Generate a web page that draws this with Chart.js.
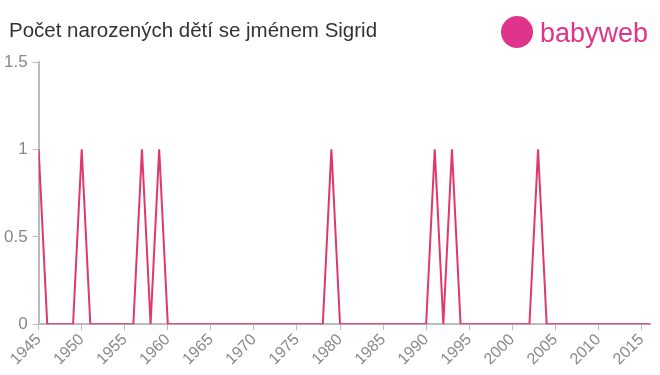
<!DOCTYPE html>
<html><head><meta charset="utf-8">
<script src="https://cdn.jsdelivr.net/npm/chart.js@4"></script>
<style>
html,body{margin:0;padding:0;background:#fff;}
#wrap{position:relative;width:660px;height:375px;}
#title{position:absolute;left:9px;top:18px;font-family:Arial,"Liberation Sans",sans-serif;font-size:20.5px;color:#333;}
#logo{position:absolute;left:501px;top:16px;height:36px;}
#logo .c{position:absolute;left:0;top:0;width:32px;height:32px;border-radius:50%;background:#e0338a;}
#logo .t{position:absolute;left:39px;top:2px;font-family:Arial,"Liberation Sans",sans-serif;font-size:27px;color:#e0338a;}
canvas{position:absolute;left:0;top:0;}
</style></head>
<body><div id="wrap"><canvas id="c" width="660" height="375"></canvas>
<div id="title">Počet narozených dětí se jménem Sigrid</div>
<div id="logo"><div class="c"></div><div class="t">babyweb</div></div>
</div>
<script>
const years = [1945,1946,1947,1948,1949,1950,1951,1952,1953,1954,1955,1956,1957,1958,1959,1960,1961,1962,1963,1964,1965,1966,1967,1968,1969,1970,1971,1972,1973,1974,1975,1976,1977,1978,1979,1980,1981,1982,1983,1984,1985,1986,1987,1988,1989,1990,1991,1992,1993,1994,1995,1996,1997,1998,1999,2000,2001,2002,2003,2004,2005,2006,2007,2008,2009,2010,2011,2012,2013,2014,2015,2016];
const counts = [1,0,0,0,0,1,0,0,0,0,0,0,1,0,1,0,0,0,0,0,0,0,0,0,0,0,0,0,0,0,0,0,0,0,1,0,0,0,0,0,0,0,0,0,0,0,1,0,1,0,0,0,0,0,0,0,0,0,1,0,0,0,0,0,0,0,0,0,0,0,0,0];
const yTicks = [0,0.5,1,1.5];
const xTickStep = 5;

const axisColor = '#bbbbbb';
const ff = 'Arial, "Liberation Sans", sans-serif';
new Chart(document.getElementById('c'), {
  type:'line',
  data:{datasets:[{data:years.map((y,i)=>({x:y,y:counts[i]})),borderColor:'#e0386c',borderWidth:2,pointRadius:0,tension:0,fill:false}]},
  options:{
    responsive:false,animation:false,
    layout:{padding:{left:-1,right:10,top:62,bottom:6}},
    plugins:{legend:{display:false},tooltip:{enabled:false}},
    scales:{
      x:{type:'linear',min:years[0],max:years[years.length-1],
        afterBuildTicks:(s)=>{s.ticks=years.filter(y=>y%xTickStep===0).map(v=>({value:v}));},
        ticks:{color:'#888',font:{family:ff,size:16},maxRotation:45,minRotation:45,padding:0,callback:(v)=>String(v)},
        grid:{drawOnChartArea:false,color:axisColor,tickLength:6,lineWidth:1},
        border:{color:axisColor,width:2}},
      y:{min:0,max:1.5,
        afterBuildTicks:(s)=>{s.ticks=yTicks.map(v=>({value:v}));},
        ticks:{color:'#888',font:{family:ff,size:17},padding:5,callback:(v)=>String(v)},
        grid:{drawOnChartArea:false,color:axisColor,tickLength:6,lineWidth:1},
        border:{color:axisColor,width:2}}
    }
  }
});
</script></body></html>
